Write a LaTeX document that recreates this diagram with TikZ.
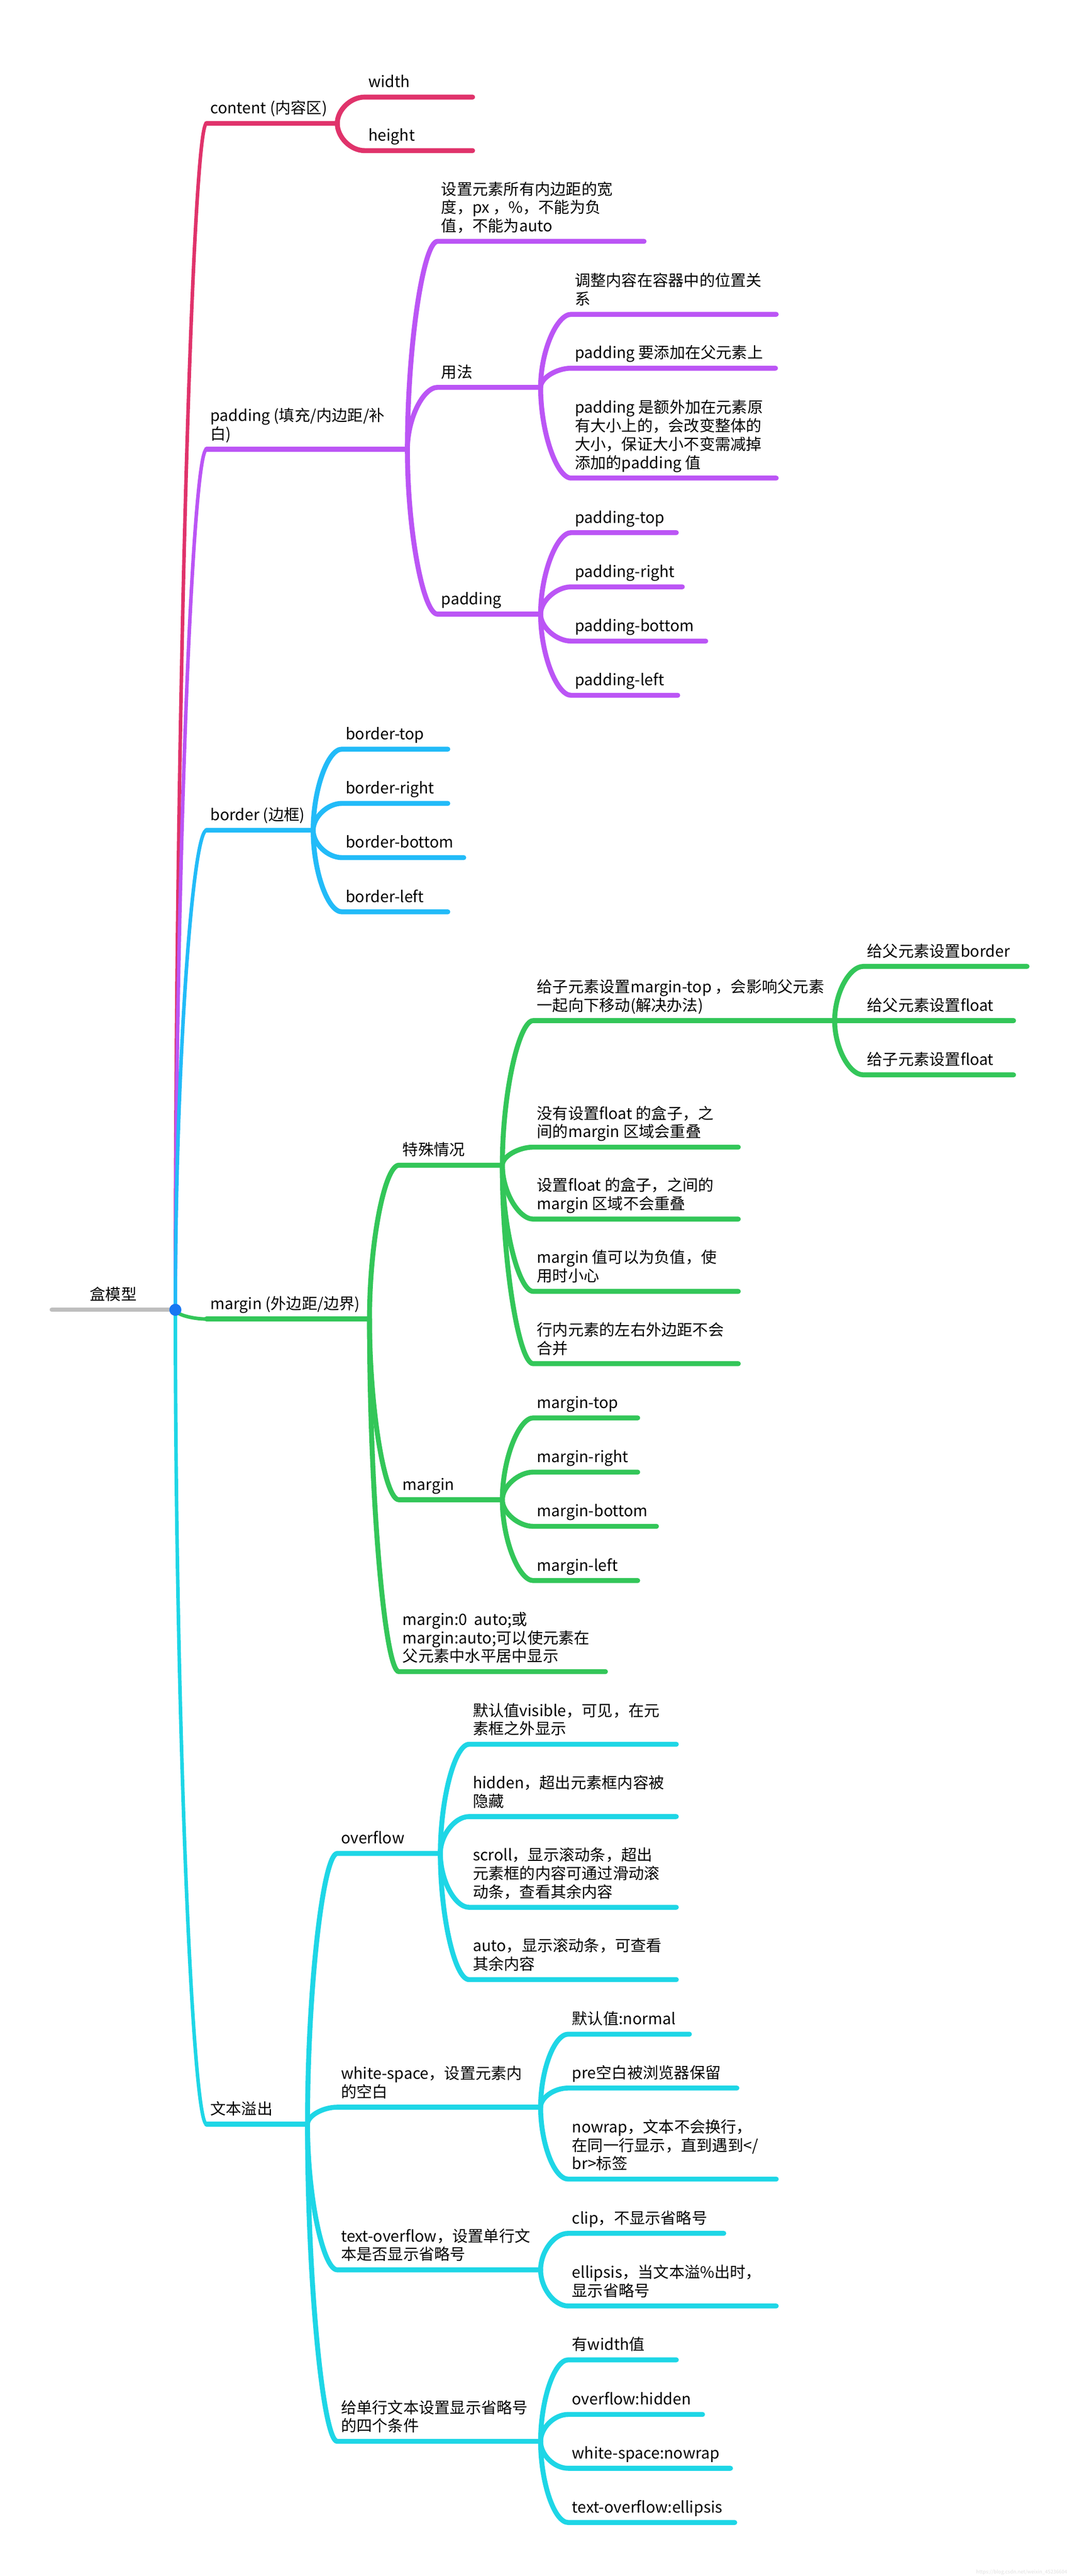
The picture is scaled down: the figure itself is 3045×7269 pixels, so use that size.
\documentclass[tikz,border=0pt]{standalone}
\usepackage{fontspec}
\setmainfont{Noto Sans CJK SC}
\definecolor{mmred}{RGB}{224, 51, 107}
\definecolor{mmpurple}{RGB}{187, 85, 245}
\definecolor{mmblue}{RGB}{34, 187, 248}
\definecolor{mmgreen}{RGB}{51, 198, 89}
\definecolor{mmcyan}{RGB}{30, 214, 230}
\definecolor{mmgray}{RGB}{190, 190, 190}
\definecolor{mmdot}{RGB}{24, 119, 242}
\usetikzlibrary{calc}
\tikzset{
    topic/.style={
        anchor=south west,
        inner sep=0pt,
        align=left,
        xshift=0.1cm,
        yshift=0.11cm,
        font=\fontsize{12.5pt}{14.8pt}\selectfont,
        execute at end node=\strut
    },
    roottext/.style={anchor=base, inner sep=0pt, font=\fontsize{12.5pt}{14.8pt}\selectfont},
    marktext/.style={anchor=base east, inner sep=0pt, text=black!12, font=\fontsize{4pt}{5pt}\selectfont},
    bar/.style={line width=0.14cm, line cap=round, color=#1},
    trunk/.style={line width=0.1cm, line cap=round, color=#1},
    branch/.style={to path={.. controls ($(\tikztostart)!0.5!(\tikztostart|-\tikztotarget)$) and ($(\tikztotarget)+(-40,0)$) .. (\tikztotarget)}}
}
\begin{document}
\begin{tikzpicture}[x=0.01cm, y=-0.01cm]
          \useasboundingbox (0,0) rectangle (3045,7269);
          \coordinate (root) at (495,3696);
          \coordinate (root-s) at (146,3696);
          \coordinate (content) at (583,348);   \coordinate (content-e) at (952,348);
          \coordinate (padding) at (583,1268);  \coordinate (padding-e) at (1150,1268);
          \coordinate (border) at (583,2343);   \coordinate (border-e) at (884,2343);
          \coordinate (margin) at (583,3722);   \coordinate (margin-e) at (1043,3722);
          \coordinate (textovf) at (583,5994);  \coordinate (textovf-e) at (868,5994);
          \coordinate (width) at (1029,274);    \coordinate (width-e) at (1334,274);
          \coordinate (height) at (1029,425);   \coordinate (height-e) at (1334,425);
          \coordinate (padwidth) at (1235,681); \coordinate (padwidth-e) at (1818,681);
          \coordinate (usage) at (1235,1093);   \coordinate (usage-e) at (1526,1093);
          \coordinate (padlist) at (1235,1733); \coordinate (padlist-e) at (1526,1733);
          \coordinate (adjust) at (1612,887);   \coordinate (adjust-e) at (2191,887);
          \coordinate (addparent) at (1612,1039); \coordinate (addparent-e) at (2189,1039);
          \coordinate (extra) at (1612,1349);   \coordinate (extra-e) at (2191,1349);
          \coordinate (ptop) at (1612,1503);    \coordinate (ptop-e) at (1909,1503);
          \coordinate (pright) at (1612,1656);  \coordinate (pright-e) at (1926,1656);
          \coordinate (pbottom) at (1612,1809); \coordinate (pbottom-e) at (1992,1809);
          \coordinate (pleft) at (1612,1962);   \coordinate (pleft-e) at (1913,1962);
          \coordinate (btop) at (965,2114);     \coordinate (btop-e) at (1264,2114);
          \coordinate (bright) at (965,2267);   \coordinate (bright-e) at (1264,2267);
          \coordinate (bbottom) at (965,2420);  \coordinate (bbottom-e) at (1309,2420);
          \coordinate (bleft) at (965,2573);    \coordinate (bleft-e) at (1264,2573);
          \coordinate (special) at (1126,3288); \coordinate (special-e) at (1418,3288);
          \coordinate (mlist) at (1126,4232);   \coordinate (mlist-e) at (1418,4232);
          \coordinate (mauto) at (1126,4717);   \coordinate (mauto-e) at (1709,4717);
          \coordinate (collapse) at (1505,2880); \coordinate (collapse-e) at (2356,2880);
          \coordinate (nofloat) at (1505,3237); \coordinate (nofloat-e) at (2084,3237);
          \coordinate (withfloat) at (1505,3440); \coordinate (withfloat-e) at (2084,3440);
          \coordinate (negative) at (1505,3644); \coordinate (negative-e) at (2084,3644);
          \coordinate (inline) at (1505,3848);  \coordinate (inline-e) at (2084,3848);
          \coordinate (pborder) at (2437,2727); \coordinate (pborder-e) at (2899,2727);
          \coordinate (pfloat) at (2437,2880);  \coordinate (pfloat-e) at (2861,2880);
          \coordinate (cfloat) at (2437,3033);  \coordinate (cfloat-e) at (2861,3033);
          \coordinate (mtop) at (1505,4001);    \coordinate (mtop-e) at (1800,4001);
          \coordinate (mright) at (1505,4154);  \coordinate (mright-e) at (1800,4154);
          \coordinate (mbottom) at (1505,4307); \coordinate (mbottom-e) at (1853,4307);
          \coordinate (mleft) at (1505,4460);   \coordinate (mleft-e) at (1800,4460);
          \coordinate (overflow) at (952,5230); \coordinate (overflow-e) at (1243,5230);
          \coordinate (whitespace) at (952,5946); \coordinate (whitespace-e) at (1526,5946);
          \coordinate (textoverflow) at (952,6405); \coordinate (textoverflow-e) at (1526,6405);
          \coordinate (ellcond) at (952,6889);  \coordinate (ellcond-e) at (1526,6889);
          \coordinate (visible) at (1324,4922); \coordinate (visible-e) at (1909,4922);
          \coordinate (hidden) at (1324,5126);  \coordinate (hidden-e) at (1909,5126);
          \coordinate (scroll) at (1324,5382);  \coordinate (scroll-e) at (1909,5382);
          \coordinate (autoval) at (1324,5586); \coordinate (autoval-e) at (1909,5586);
          \coordinate (normal) at (1604,5740);  \coordinate (normal-e) at (1946,5740);
          \coordinate (pre) at (1604,5892);     \coordinate (pre-e) at (2080,5892);
          \coordinate (nowrap) at (1604,6149);  \coordinate (nowrap-e) at (2191,6149);
          \coordinate (clip) at (1604,6302);    \coordinate (clip-e) at (2043,6302);
          \coordinate (ellipsis) at (1604,6507); \coordinate (ellipsis-e) at (2191,6507);
          \coordinate (haswidth) at (1604,6659); \coordinate (haswidth-e) at (1909,6659);
          \coordinate (ohidden) at (1604,6813); \coordinate (ohidden-e) at (1983,6813);
          \coordinate (wsnowrap) at (1604,6965); \coordinate (wsnowrap-e) at (2062,6965);
          \coordinate (toell) at (1604,7118);   \coordinate (toell-e) at (2074,7118);
          \coordinate (markpt) at (3013,7262);

          \node[roottext] (root-l) at (320,3668) {盒模型};
          \node[topic] (content-l) at (content) {content (内容区)};
          \node[topic] (padding-l) at (padding) {padding (填充/内边距/补\\白)};
          \node[topic] (border-l) at (border) {border (边框)};
          \node[topic] (margin-l) at (margin) {margin (外边距/边界)};
          \node[topic] (textovf-l) at (textovf) {文本溢出};
          \node[topic] (width-l) at (width) {width};
          \node[topic] (height-l) at (height) {height};
          \node[topic] (padwidth-l) at (padwidth) {设置元素所有内边距的宽\\度，px ，\%，不能为负\\值，不能为auto};
          \node[topic] (usage-l) at (usage) {用法};
          \node[topic] (padlist-l) at (padlist) {padding};
          \node[topic] (adjust-l) at (adjust) {调整内容在容器中的位置关\\系};
          \node[topic] (addparent-l) at (addparent) {padding 要添加在父元素上};
          \node[topic] (extra-l) at (extra) {padding 是额外加在元素原\\有大小上的，会改变整体的\\大小，保证大小不变需减掉\\添加的padding 值};
          \node[topic] (ptop-l) at (ptop) {padding-top};
          \node[topic] (pright-l) at (pright) {padding-right};
          \node[topic] (pbottom-l) at (pbottom) {padding-bottom};
          \node[topic] (pleft-l) at (pleft) {padding-left};
          \node[topic] (btop-l) at (btop) {border-top};
          \node[topic] (bright-l) at (bright) {border-right};
          \node[topic] (bbottom-l) at (bbottom) {border-bottom};
          \node[topic] (bleft-l) at (bleft) {border-left};
          \node[topic] (special-l) at (special) {特殊情况};
          \node[topic] (mlist-l) at (mlist) {margin};
          \node[topic] (mauto-l) at (mauto) {margin:0\ \ auto;或\\margin:auto;可以使元素在\\父元素中水平居中显示};
          \node[topic] (collapse-l) at (collapse) {给子元素设置margin-top ，会影响父元素\\一起向下移动(解决办法)};
          \node[topic] (nofloat-l) at (nofloat) {没有设置float 的盒子，之\\间的margin 区域会重叠};
          \node[topic] (withfloat-l) at (withfloat) {设置float 的盒子，之间的\\margin 区域不会重叠};
          \node[topic] (negative-l) at (negative) {margin 值可以为负值，使\\用时小心};
          \node[topic] (inline-l) at (inline) {行内元素的左右外边距不会\\合并};
          \node[topic] (pborder-l) at (pborder) {给父元素设置border};
          \node[topic] (pfloat-l) at (pfloat) {给父元素设置float};
          \node[topic] (cfloat-l) at (cfloat) {给子元素设置float};
          \node[topic] (mtop-l) at (mtop) {margin-top};
          \node[topic] (mright-l) at (mright) {margin-right};
          \node[topic] (mbottom-l) at (mbottom) {margin-bottom};
          \node[topic] (mleft-l) at (mleft) {margin-left};
          \node[topic] (overflow-l) at (overflow) {overflow};
          \node[topic] (whitespace-l) at (whitespace) {white-space，设置元素内\\的空白};
          \node[topic] (textoverflow-l) at (textoverflow) {text-overflow，设置单行文\\本是否显示省略号};
          \node[topic] (ellcond-l) at (ellcond) {给单行文本设置显示省略号\\的四个条件};
          \node[topic] (visible-l) at (visible) {默认值visible，可见，在元\\素框之外显示};
          \node[topic] (hidden-l) at (hidden) {hidden，超出元素框内容被\\隐藏};
          \node[topic] (scroll-l) at (scroll) {scroll，显示滚动条，超出\\元素框的内容可通过滑动滚\\动条，查看其余内容};
          \node[topic] (autoval-l) at (autoval) {auto，显示滚动条，可查看\\其余内容};
          \node[topic] (normal-l) at (normal) {默认值:normal};
          \node[topic] (pre-l) at (pre) {pre空白被浏览器保留};
          \node[topic] (nowrap-l) at (nowrap) {nowrap，文本不会换行，\\在同一行显示，直到遇到</\\br>标签};
          \node[topic] (clip-l) at (clip) {clip，不显示省略号};
          \node[topic] (ellipsis-l) at (ellipsis) {ellipsis，当文本溢\%出时，\\显示省略号};
          \node[topic] (haswidth-l) at (haswidth) {有width值};
          \node[topic] (ohidden-l) at (ohidden) {overflow:hidden};
          \node[topic] (wsnowrap-l) at (wsnowrap) {white-space:nowrap};
          \node[topic] (toell-l) at (toell) {text-overflow:ellipsis};
          \node[marktext] (csdnmark) at (markpt) {https://blog.csdn.net/weixin\_45236604};

          \draw[trunk=mmred] (root) to[branch] (content);
          \draw[trunk=mmpurple] (root) to[branch] (padding);
          \draw[trunk=mmblue] (root) to[branch] (border);
          \draw[trunk=mmcyan] (root) to[branch] (textovf);
          \draw[trunk=mmgreen] (root) to[branch] (margin);
          \draw[bar=mmred] (content) -- (content-e);
          \draw[bar=mmpurple] (padding) -- (padding-e);
          \draw[bar=mmblue] (border) -- (border-e);
          \draw[bar=mmgreen] (margin) -- (margin-e);
          \draw[bar=mmcyan] (textovf) -- (textovf-e);

          \draw[bar=mmred] (content-e) to[branch] (width) -- (width-e);
          \draw[bar=mmred] (content-e) to[branch] (height) -- (height-e);

          \draw[bar=mmpurple] (padding-e) to[branch] (padwidth) -- (padwidth-e);
          \draw[bar=mmpurple] (padding-e) to[branch] (usage) -- (usage-e);
          \draw[bar=mmpurple] (padding-e) to[branch] (padlist) -- (padlist-e);
          \draw[bar=mmpurple] (usage-e) to[branch] (adjust) -- (adjust-e);
          \draw[bar=mmpurple] (usage-e) to[branch] (addparent) -- (addparent-e);
          \draw[bar=mmpurple] (usage-e) to[branch] (extra) -- (extra-e);
          \draw[bar=mmpurple] (padlist-e) to[branch] (ptop) -- (ptop-e);
          \draw[bar=mmpurple] (padlist-e) to[branch] (pright) -- (pright-e);
          \draw[bar=mmpurple] (padlist-e) to[branch] (pbottom) -- (pbottom-e);
          \draw[bar=mmpurple] (padlist-e) to[branch] (pleft) -- (pleft-e);

          \draw[bar=mmblue] (border-e) to[branch] (btop) -- (btop-e);
          \draw[bar=mmblue] (border-e) to[branch] (bright) -- (bright-e);
          \draw[bar=mmblue] (border-e) to[branch] (bbottom) -- (bbottom-e);
          \draw[bar=mmblue] (border-e) to[branch] (bleft) -- (bleft-e);

          \draw[bar=mmgreen] (margin-e) to[branch] (special) -- (special-e);
          \draw[bar=mmgreen] (margin-e) to[branch] (mlist) -- (mlist-e);
          \draw[bar=mmgreen] (margin-e) to[branch] (mauto) -- (mauto-e);
          \draw[bar=mmgreen] (special-e) to[branch] (collapse) -- (collapse-e);
          \draw[bar=mmgreen] (special-e) to[branch] (nofloat) -- (nofloat-e);
          \draw[bar=mmgreen] (special-e) to[branch] (withfloat) -- (withfloat-e);
          \draw[bar=mmgreen] (special-e) to[branch] (negative) -- (negative-e);
          \draw[bar=mmgreen] (special-e) to[branch] (inline) -- (inline-e);
          \draw[bar=mmgreen] (collapse-e) to[branch] (pborder) -- (pborder-e);
          \draw[bar=mmgreen] (collapse-e) to[branch] (pfloat) -- (pfloat-e);
          \draw[bar=mmgreen] (collapse-e) to[branch] (cfloat) -- (cfloat-e);
          \draw[bar=mmgreen] (mlist-e) to[branch] (mtop) -- (mtop-e);
          \draw[bar=mmgreen] (mlist-e) to[branch] (mright) -- (mright-e);
          \draw[bar=mmgreen] (mlist-e) to[branch] (mbottom) -- (mbottom-e);
          \draw[bar=mmgreen] (mlist-e) to[branch] (mleft) -- (mleft-e);

          \draw[bar=mmcyan] (textovf-e) to[branch] (overflow) -- (overflow-e);
          \draw[bar=mmcyan] (textovf-e) to[branch] (whitespace) -- (whitespace-e);
          \draw[bar=mmcyan] (textovf-e) to[branch] (textoverflow) -- (textoverflow-e);
          \draw[bar=mmcyan] (textovf-e) to[branch] (ellcond) -- (ellcond-e);
          \draw[bar=mmcyan] (overflow-e) to[branch] (visible) -- (visible-e);
          \draw[bar=mmcyan] (overflow-e) to[branch] (hidden) -- (hidden-e);
          \draw[bar=mmcyan] (overflow-e) to[branch] (scroll) -- (scroll-e);
          \draw[bar=mmcyan] (overflow-e) to[branch] (autoval) -- (autoval-e);
          \draw[bar=mmcyan] (whitespace-e) to[branch] (normal) -- (normal-e);
          \draw[bar=mmcyan] (whitespace-e) to[branch] (pre) -- (pre-e);
          \draw[bar=mmcyan] (whitespace-e) to[branch] (nowrap) -- (nowrap-e);
          \draw[bar=mmcyan] (textoverflow-e) to[branch] (clip) -- (clip-e);
          \draw[bar=mmcyan] (textoverflow-e) to[branch] (ellipsis) -- (ellipsis-e);
          \draw[bar=mmcyan] (ellcond-e) to[branch] (haswidth) -- (haswidth-e);
          \draw[bar=mmcyan] (ellcond-e) to[branch] (ohidden) -- (ohidden-e);
          \draw[bar=mmcyan] (ellcond-e) to[branch] (wsnowrap) -- (wsnowrap-e);
          \draw[bar=mmcyan] (ellcond-e) to[branch] (toell) -- (toell-e);

          \draw[bar=mmgray, line width=0.12cm] (root-s) -- (root);
          \node[circle, fill=mmdot, inner sep=0pt, minimum size=0.34cm] (rootdot) at (root) {};
        \end{tikzpicture}
\end{document}
